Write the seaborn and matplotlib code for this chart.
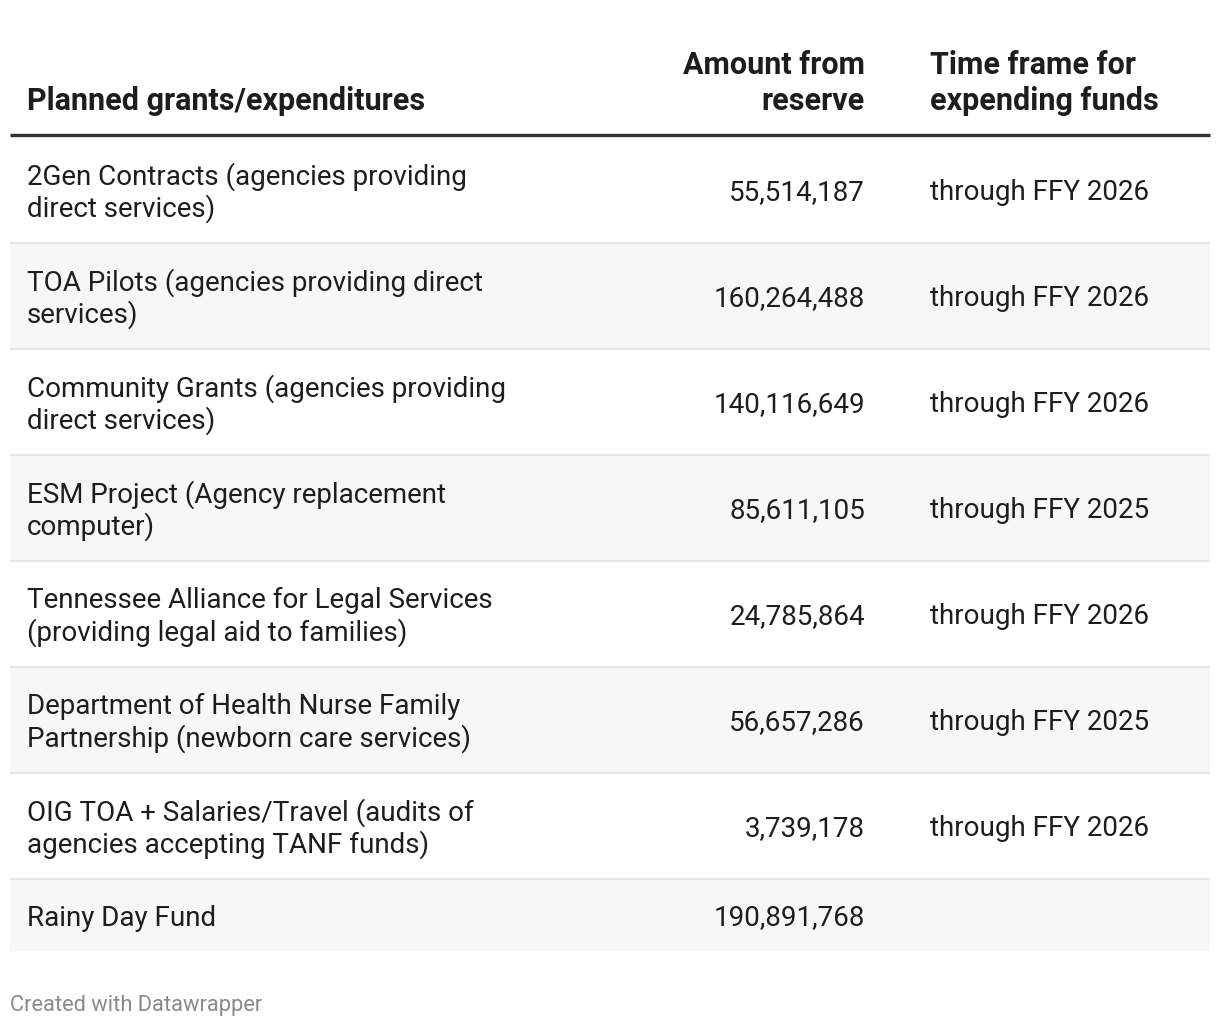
import matplotlib
matplotlib.use("Agg")
import matplotlib.pyplot as plt
import seaborn as sns
import pandas as pd

# ---- data ----
col_headers = [["Planned grants/expenditures"], ["Amount from", "reserve"], ["Time frame for", "expending funds"]]
items = [
    ["2Gen Contracts (agencies providing", "direct services)"],
    ["TOA Pilots (agencies providing direct", "services)"],
    ["Community Grants (agencies providing", "direct services)"],
    ["ESM Project (Agency replacement", "computer)"],
    ["Tennessee Alliance for Legal Services", "(providing legal aid to families)"],
    ["Department of Health Nurse Family", "Partnership (newborn care services)"],
    ["OIG TOA + Salaries/Travel (audits of", "agencies accepting TANF funds)"],
    ["Rainy Day Fund"],
]
amounts = [55514187, 160264488, 140116649, 85611105, 24785864, 56657286, 3739178, 190891768]
timeframes = ["through FFY 2026", "through FFY 2026", "through FFY 2026", "through FFY 2025",
              "through FFY 2026", "through FFY 2025", "through FFY 2026", ""]
footer = "Created with Datawrapper"

sns.set_theme(style="white")
plt.rcParams['font.family'] = ['Roboto', 'DejaVu Sans']

W, H = 1220, 1028
fig = plt.figure(figsize=(W / 100, H / 100), dpi=100)
ax = fig.add_axes([0, 0, 1, 1])
ax.set_xlim(0, W)
ax.set_ylim(H, 0)
ax.axis("off")

# layout
left, right = 10, 1210
x_item, x_amt, x_time = 27, 865, 930
header_line_y = 135
row_top0 = 137
line_h = 32
row_pad = 41  # two-line rows ~105 px
txt_off = 3   # baseline nudge for visual centering

txt_col = "#1d1d1d"
body_fs = 20.0
head_fs = 22.0

# header
head_bottom = 101
for hdr, x, ha in zip(col_headers, [x_item, x_amt, x_time], ["left", "right", "left"]):
    n = len(hdr)
    for k, line in enumerate(hdr):
        y = head_bottom - (n - 1 - k) * 36
        ax.text(x, y, line, ha=ha, va="center", fontsize=head_fs, fontweight="bold", color=txt_col)

ax.plot([left, right], [header_line_y, header_line_y], color="#333333", lw=2.4, solid_capstyle="butt")

# rows
df = pd.DataFrame({"item": items, "amount": amounts, "time": timeframes})
tops, heights = [], []
y = row_top0
for i, r in df.iterrows():
    n = len(r["item"])
    h = n * line_h + row_pad if n > 1 else 72
    tops.append(y)
    heights.append(h)
    y += h + 1

shade = ["#ffffff" if i % 2 == 0 else "#f7f7f7" for i in range(len(df))]
ax.barh([t + h / 2 for t, h in zip(tops, heights)], width=right - left, left=left,
        height=heights, color=shade, edgecolor="none")

for i, r in df.iterrows():
    t, h = tops[i], heights[i]
    c = t + h / 2 + txt_off
    lines = r["item"]
    n = len(lines)
    for k, line in enumerate(lines):
        ly = c + (k - (n - 1) / 2) * line_h
        ax.text(x_item, ly, line, ha="left", va="center", fontsize=body_fs, color=txt_col)
    ax.text(x_amt, c, f"{r['amount']:,}", ha="right", va="center", fontsize=body_fs, color=txt_col)
    if r["time"]:
        ax.text(x_time, c, r["time"], ha="left", va="center", fontsize=body_fs, color=txt_col)
    if i < len(df) - 1:
        sy = t + h + 0.5
        ax.plot([left, right], [sy, sy], color="#e6e6e6", lw=1.5, solid_capstyle="butt")

ax.text(10, 1006, footer, ha="left", va="center", fontsize=15.75, color="#8a8a8a")

fig.savefig("out.png", dpi=100, facecolor="white")
